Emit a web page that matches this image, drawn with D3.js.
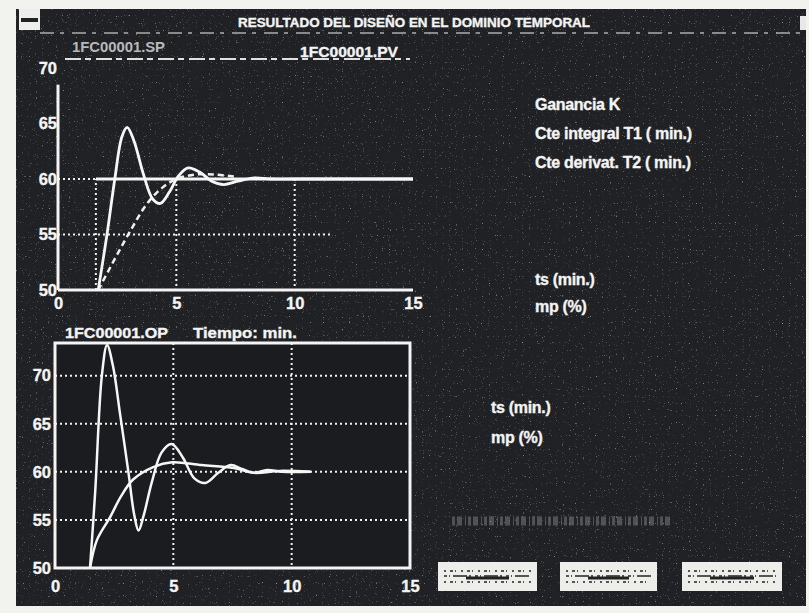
<!DOCTYPE html>
<html>
<head>
<meta charset="utf-8">
<script src="https://cdn.jsdelivr.net/npm/d3@7"></script>
<style>
  body { margin: 0; background: #f2f2ef; }
  svg { display: block; }
  text { font-family: "Liberation Sans", Arial, sans-serif; font-weight: bold; fill: #f4f4f4; stroke: #f4f4f4; stroke-width: 0.35px; }
</style>
</head>
<body>
<svg id="chart" width="809" height="613"></svg>
<script>
// data
var xTicks = [0, 5, 10, 15];
var pvTicks = [50, 55, 60, 65, 70];
var opTicks = [50, 55, 60, 65, 70];

// upper chart: set point step, process value and the dashed reference curve
var spTime  = [0, 1.6, 1.6, 15];
var spValue = [50, 50, 60, 60];
var pvTime  = [1.7, 2.07, 2.4, 2.7, 2.92, 3.2, 3.6, 4.0, 4.32, 4.7, 5.1, 5.5, 6.0, 6.5, 7.0, 7.6, 8.3, 9.0, 10, 15];
var pvValue = [50, 55, 60, 63.8, 64.65, 63.5, 60.5, 58.2, 57.8, 58.8, 60.3, 61.0, 60.6, 59.8, 59.5, 59.8, 60.1, 60, 60, 60];
var refTime  = [1.7, 2.4, 3.05, 3.77, 4.4, 5.0, 5.8, 6.6, 7.5];
var refValue = [50, 52.8, 55.3, 57.8, 59.2, 60.0, 60.4, 60.4, 60.2];

// lower chart: controller output, two responses
var opTime  = [1.48, 1.7, 1.98, 2.2, 2.45, 2.75, 3.1, 3.35, 3.53, 3.75, 4.1, 4.5, 4.93, 5.4, 5.9, 6.36, 6.9, 7.42, 7.9, 8.4, 8.97, 9.6, 10.8];
var opValue = [50, 58, 70, 73.2, 71, 66, 60, 55.5, 53.9, 55.5, 59, 62, 62.9, 61.5, 59.3, 58.85, 59.9, 60.7, 60.3, 59.9, 60.2, 60, 60];
var op2Time  = [1.48, 1.77, 2.33, 2.8, 3.3, 4.15, 4.95, 6.2, 7.55, 8.4, 9.5, 10.8];
var op2Value = [50, 52.9, 55.3, 57.5, 59.2, 60.5, 61.0, 60.7, 60.4, 59.9, 60.1, 60];

var rightLabels = ["Ganancia K", "Cte integral T1 ( min.)", "Cte derivat. T2 ( min.)"];
var respLabels = ["ts (min.)", "mp (%)"];

var svg = d3.select("#chart");

// speckle texture like the scanned screen
var defs = svg.append("defs");
var f = defs.append("filter").attr("id", "noise").attr("x", 0).attr("y", 0).attr("width", 1).attr("height", 1);
f.append("feTurbulence").attr("type", "fractalNoise").attr("baseFrequency", 0.85).attr("numOctaves", 1).attr("seed", 4);
f.append("feColorMatrix").attr("type", "matrix")
  .attr("values", "0 0 0 0 1  0 0 0 0 1  0 0 0 0 1  5 0 0 0 -3.3");

// window body
svg.append("rect").attr("x", 16).attr("y", 9).attr("width", 790).attr("height", 597).attr("fill", "#202124");
svg.append("rect").attr("x", 16).attr("y", 9).attr("width", 790).attr("height", 597)
  .attr("filter", "url(#noise)").attr("opacity", 0.6);

// title bar
svg.append("rect").attr("x", 19).attr("y", 9).attr("width", 21).attr("height", 21).attr("fill", "#eeeeee");
svg.append("rect").attr("x", 21).attr("y", 18).attr("width", 17).attr("height", 4).attr("fill", "#222");
svg.append("rect").attr("x", 800).attr("y", 16).attr("width", 6).attr("height", 14).attr("fill", "#e8e8e8");
svg.append("text").attr("x", 238).attr("y", 27).attr("font-size", 12)
  .attr("textLength", 352).attr("lengthAdjust", "spacingAndGlyphs")
  .text("RESULTADO DEL DISEÑO EN EL DOMINIO TEMPORAL");
svg.append("line").attr("x1", 40).attr("x2", 800).attr("y1", 33).attr("y2", 33)
  .attr("stroke", "#cfcfcf").attr("stroke-width", 2).attr("stroke-dasharray", "14,6,4,8").attr("opacity", 0.6);

// ---------- upper chart ----------
var x = d3.scaleLinear().domain([0, 15]).range([58, 413]);
var y = d3.scaleLinear().domain([50, 70]).range([290, 68]);

svg.append("text").attr("x", 72).attr("y", 52).attr("font-size", 14).style("fill", "#b9b9b9").style("stroke", "none")
  .attr("textLength", 93).attr("lengthAdjust", "spacingAndGlyphs").text("1FC00001.SP");
svg.append("text").attr("x", 300).attr("y", 57).attr("font-size", 15)
  .attr("textLength", 98).attr("lengthAdjust", "spacingAndGlyphs").text("1FC00001.PV");
svg.append("line").attr("x1", 65).attr("x2", 410).attr("y1", 59).attr("y2", 59)
  .attr("stroke", "#e0e0e0").attr("stroke-width", 2).attr("stroke-dasharray", "16,4,6,5");

var dotted = function(sel) {
  return sel.attr("stroke", "#f0f0f0").attr("stroke-width", 2).attr("stroke-dasharray", "2,3");
};
// grid pieces
dotted(svg.append("line").attr("x1", x(0)).attr("x2", x(11.5)).attr("y1", y(55)).attr("y2", y(55)));
dotted(svg.append("line").attr("x1", x(0)).attr("x2", x(1.6)).attr("y1", y(60)).attr("y2", y(60)));
[5, 10].forEach(function(t) {
  dotted(svg.append("line").attr("x1", x(t)).attr("x2", x(t)).attr("y1", y(60)).attr("y2", y(50)));
});

// axes lines
svg.append("line").attr("x1", x(0)).attr("x2", x(0)).attr("y1", y(68.5)).attr("y2", y(50))
  .attr("stroke", "#f4f4f4").attr("stroke-width", 3);
svg.append("line").attr("x1", x(0)).attr("x2", x(15)).attr("y1", y(50)).attr("y2", y(50))
  .attr("stroke", "#f4f4f4").attr("stroke-width", 3);

var line = d3.line().curve(d3.curveCatmullRom.alpha(0.5));
var sp = d3.zip(spTime, spValue).map(function(d) { return [x(d[0]), y(d[1])]; });

// set point: riser dotted, new level solid
dotted(svg.append("path").attr("d", d3.line()(sp.slice(1, 3))).attr("fill", "none"));
svg.append("path").attr("d", d3.line()(sp.slice(2)))
  .attr("fill", "none").attr("stroke", "#f4f4f4").attr("stroke-width", 3);
svg.append("path")
  .attr("d", line(d3.zip(refTime, refValue).map(function(d) { return [x(d[0]), y(d[1])]; })))
  .attr("fill", "none").attr("stroke", "#eeeeee").attr("stroke-width", 2.5).attr("stroke-dasharray", "6,4");
svg.append("path")
  .attr("d", line(d3.zip(pvTime, pvValue).map(function(d) { return [x(d[0]), y(d[1])]; })))
  .attr("fill", "none").attr("stroke", "#f6f6f6").attr("stroke-width", 2.8);

var ax1 = svg.append("g").attr("transform", "translate(0," + y(50) + ")")
  .call(d3.axisBottom(x).tickValues(xTicks).tickSize(0).tickPadding(7));
var ay1 = svg.append("g").attr("transform", "translate(" + x(0) + ",0)")
  .call(d3.axisLeft(y).tickValues(pvTicks).tickSize(0).tickPadding(1));

// ---------- lower chart ----------
var x2 = d3.scaleLinear().domain([0, 15]).range([55, 410]);
var y2 = d3.scaleLinear().domain([50, 73.4]).range([568, 343]);

svg.append("text").attr("x", 65).attr("y", 338).attr("font-size", 15.5)
  .attr("textLength", 103).attr("lengthAdjust", "spacingAndGlyphs").text("1FC00001.OP");
svg.append("text").attr("x", 193).attr("y", 338).attr("font-size", 15.5)
  .attr("textLength", 104).attr("lengthAdjust", "spacingAndGlyphs").text("Tiempo: min.");

svg.append("rect").attr("x", x2(0)).attr("y", y2(73.4)).attr("width", x2(15) - x2(0)).attr("height", y2(50) - y2(73.4))
  .attr("fill", "#1b1c1f");
opTicks.slice(1).forEach(function(v) {
  dotted(svg.append("line").attr("x1", x2(0)).attr("x2", x2(15)).attr("y1", y2(v)).attr("y2", y2(v)));
});
[5, 10].forEach(function(t) {
  dotted(svg.append("line").attr("x1", x2(t)).attr("x2", x2(t)).attr("y1", y2(73.4)).attr("y2", y2(50)));
});

svg.append("path")
  .attr("d", line(d3.zip(op2Time, op2Value).map(function(d) { return [x2(d[0]), y2(d[1])]; })))
  .attr("fill", "none").attr("stroke", "#f6f6f6").attr("stroke-width", 2.5);
svg.append("path")
  .attr("d", line(d3.zip(opTime, opValue).map(function(d) { return [x2(d[0]), y2(d[1])]; })))
  .attr("fill", "none").attr("stroke", "#f6f6f6").attr("stroke-width", 2.5);

svg.append("rect").attr("x", x2(0)).attr("y", y2(73.4)).attr("width", x2(15) - x2(0)).attr("height", y2(50) - y2(73.4))
  .attr("fill", "none").attr("stroke", "#f4f4f4").attr("stroke-width", 3);

var ax2 = svg.append("g").attr("transform", "translate(0," + y2(50) + ")")
  .call(d3.axisBottom(x2).tickValues(xTicks).tickSize(0).tickPadding(12));
var ay2 = svg.append("g").attr("transform", "translate(" + x2(0) + ",0)")
  .call(d3.axisLeft(y2).tickValues(opTicks).tickSize(0).tickPadding(4));

[ax1, ay1, ax2, ay2].forEach(function(g) {
  g.select(".domain").remove();
  g.selectAll("text").attr("font-size", 16.5).attr("font-family", "Liberation Sans, Arial, sans-serif")
    .attr("font-weight", "bold").attr("fill", "#f4f4f4");
});

// ---------- right side panel ----------
svg.selectAll(".par").data(rightLabels).enter().append("text")
  .attr("class", "par").attr("x", 535).attr("y", function(d, i) { return 110 + i * 29; })
  .attr("font-size", 16).attr("letter-spacing", -0.3).text(function(d) { return d; });
svg.selectAll(".resp1").data(respLabels).enter().append("text")
  .attr("class", "resp1").attr("x", 535).attr("y", function(d, i) { return 285 + i * 27; })
  .attr("font-size", 16).attr("letter-spacing", -0.3).text(function(d) { return d; });
svg.selectAll(".resp2").data(respLabels).enter().append("text")
  .attr("class", "resp2").attr("x", 491).attr("y", function(d, i) { return 413 + i * 30; })
  .attr("font-size", 16).attr("letter-spacing", -0.3).text(function(d) { return d; });

// faint field and buttons
svg.append("line").attr("x1", 452).attr("x2", 672).attr("y1", 521).attr("y2", 521)
  .attr("stroke", "#9a9a9a").attr("stroke-width", 9).attr("stroke-dasharray", "3,2,5,3,1,2").attr("opacity", 0.4);
var buttons = [[438, 537], [560, 657], [682, 782]];
buttons.forEach(function(b) {
  svg.append("rect").attr("x", b[0]).attr("y", 562).attr("width", b[1] - b[0]).attr("height", 29)
    .attr("fill", "#ededea");
  [571, 576, 582].forEach(function(yy, k) {
    svg.append("line").attr("x1", b[0] + 6).attr("x2", b[1] - 6).attr("y1", yy).attr("y2", yy)
      .attr("stroke", "#555").attr("stroke-width", 2)
      .attr("stroke-dasharray", k == 1 ? "3,2,1,3,14,2,2,4" : "2,4,3,2,1,5");
  });
  svg.append("line").attr("x1", b[0] + 28).attr("x2", b[1] - 28).attr("y1", 578).attr("y2", 578)
    .attr("stroke", "#222").attr("stroke-width", 3);
});
</script>
</body>
</html>
